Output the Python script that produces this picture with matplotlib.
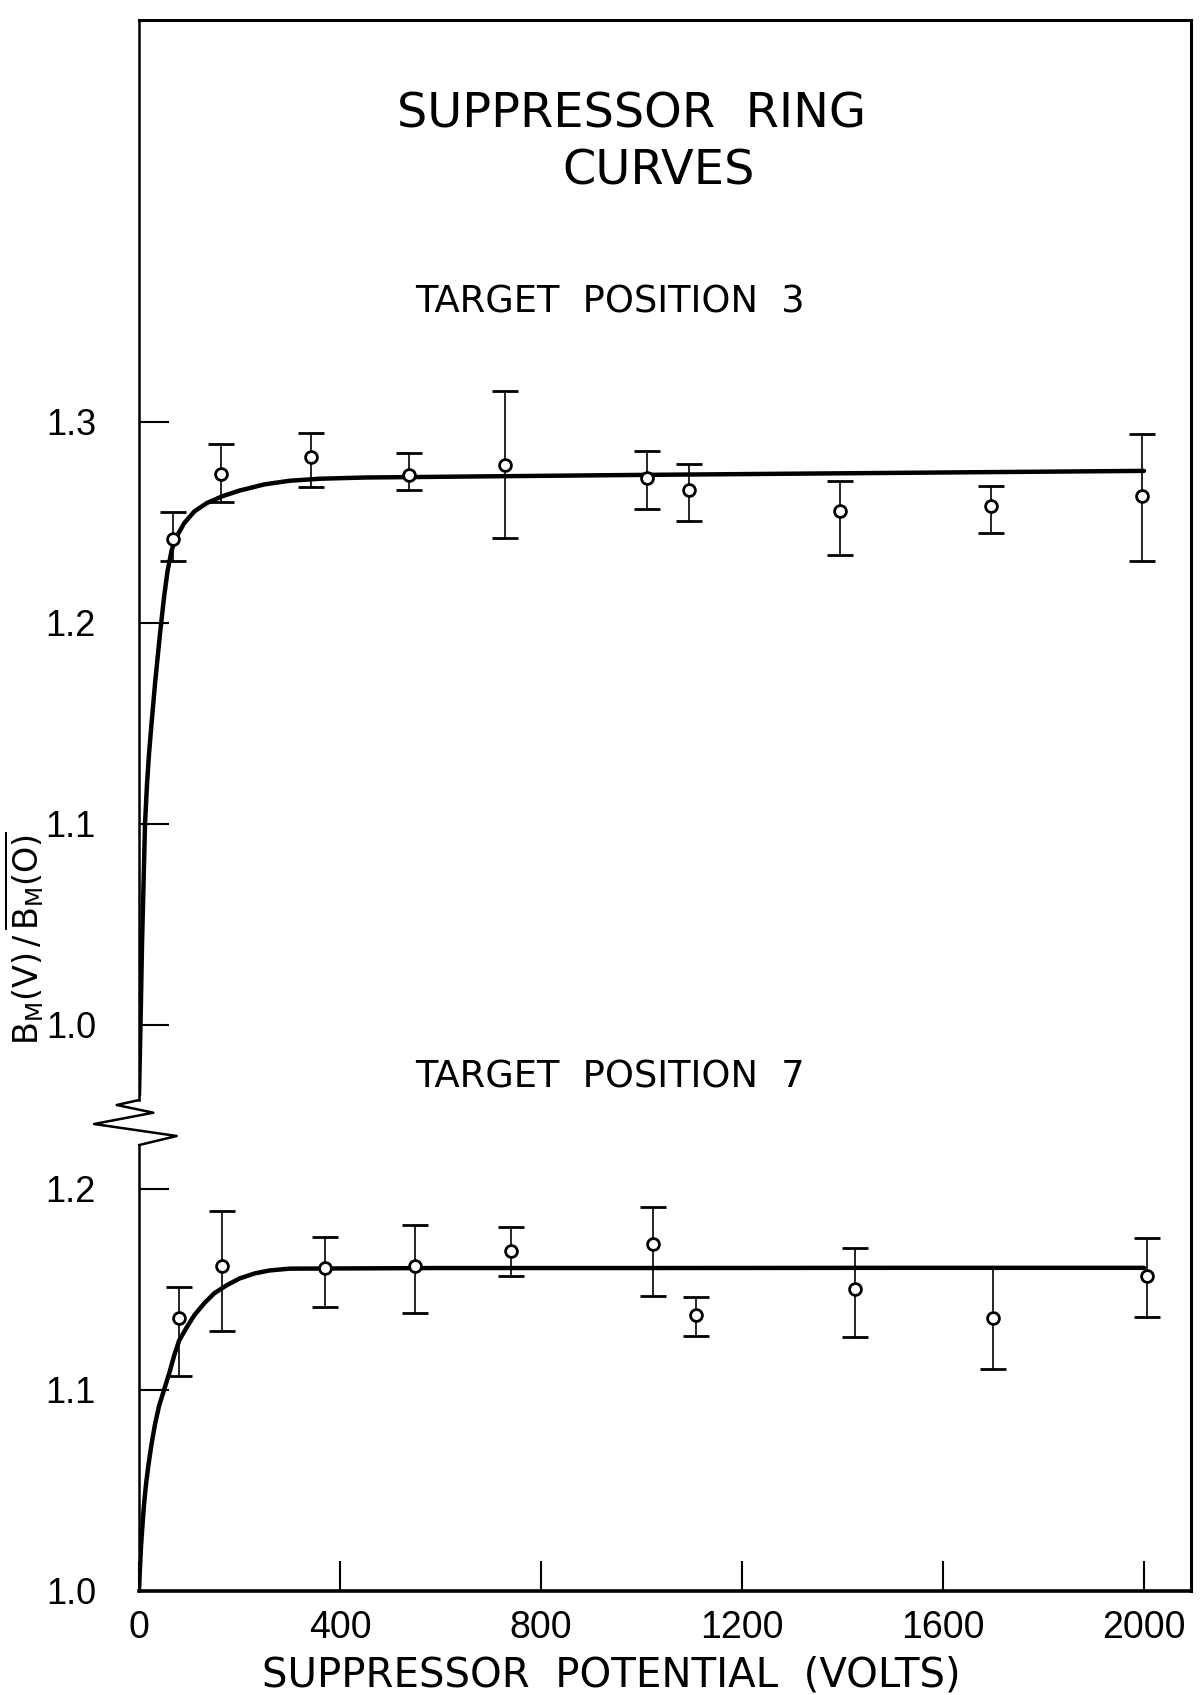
#!/usr/bin/env python3
# -*- coding: utf-8 -*-

import matplotlib
matplotlib.use('Agg')
import matplotlib.pyplot as plt
from matplotlib.lines import Line2D

W, H = 1200, 1695

# target position 3 (upper panel)
v3 = [68, 164, 343, 537, 728, 1010, 1094, 1395, 1696, 1995]
b3 = [1.2417, 1.2738, 1.2824, 1.2733, 1.2786, 1.2722, 1.2658, 1.2556, 1.2578, 1.2631]
b3_lo = [1.2305, 1.2599, 1.2674, 1.2658, 1.2422, 1.2567, 1.2508, 1.2337, 1.2444, 1.2305]
b3_hi = [1.2551, 1.2888, 1.2941, 1.2845, 1.3150, 1.2856, 1.2791, 1.2706, 1.2679, 1.2936]
fit3_v = [0, 3, 6, 9, 12, 16, 20, 25, 32, 42, 50, 57, 65, 73, 90, 110, 135, 165, 200,
          250, 300, 360, 450, 700, 1000, 1500, 2000]
fit3_b = [0.965, 1.0, 1.04, 1.07, 1.10, 1.12, 1.135, 1.15, 1.17, 1.195, 1.213, 1.226,
          1.236, 1.242, 1.2495, 1.2553, 1.2595, 1.2628, 1.2657, 1.2688, 1.2706, 1.2716,
          1.2722, 1.2728, 1.2735, 1.2745, 1.2755]

# target position 7 (lower panel)
v7 = [80, 166, 370, 549, 740, 1022, 1108, 1424, 1699, 2005]
b7 = [1.1355, 1.1616, 1.1605, 1.1616, 1.1691, 1.1723, 1.1371, 1.1499, 1.1355, 1.1563]
b7_lo = [1.1067, 1.1291, 1.1413, 1.1381, 1.1563, 1.1467, 1.1269, 1.1264, 1.1104, 1.1360]
b7_hi = [1.1509, 1.1888, 1.1760, 1.1819, 1.1808, 1.1909, 1.1461, 1.1707, 1.1611, 1.1755]
fit7_v = [0, 2, 4, 7, 10, 14, 19, 25, 32, 40, 50, 60, 70, 80, 95, 110, 130, 150, 175,
          200, 230, 260, 300, 600, 1000, 1500, 2000]
fit7_b = [1.0, 1.012, 1.022, 1.033, 1.043, 1.053, 1.063, 1.073, 1.083, 1.092, 1.10,
          1.108, 1.117, 1.1245, 1.131, 1.137, 1.143, 1.148, 1.152, 1.1553, 1.1578,
          1.1593, 1.1602, 1.1605, 1.1605, 1.1606, 1.1606]

xticks = [0, 400, 800, 1200, 1600, 2000]
yticks_top = [1.0, 1.1, 1.2, 1.3]
yticks_bot = [1.0, 1.1, 1.2]

TEXT_FONT = ['DejaVu Sans']
NUM_FONT = ['Liberation Sans', 'DejaVu Sans']


def fx(px):
    return px / W


def fy(py):
    return 1 - py / H


def style_axis(ax, yticks):
    ax.set_xlim(0, 2093.5)
    ax.set_xticks(xticks)
    ax.set_yticks(yticks)
    ax.set_yticklabels(['{:.1f}'.format(t) for t in yticks])
    ax.tick_params(axis='both', direction='in', length=21.6, width=1.5, colors='black')
    ax.tick_params(axis='y', pad=31, labelsize=26)
    ax.tick_params(axis='x', pad=14, labelsize=27)
    for lab in ax.get_xticklabels() + ax.get_yticklabels():
        lab.set_family(NUM_FONT)
    ax.spines['right'].set_visible(False)
    ax.spines['left'].set_linewidth(1.8)
    ax.patch.set_alpha(0)


def draw_series(ax, v, b, lo, hi, fv, fb):
    ax.plot(fv, fb, color='black', lw=3.2, solid_capstyle='round',
            solid_joinstyle='round', zorder=2)
    yerr = [[bi - l for bi, l in zip(b, lo)], [h - bi for bi, h in zip(b, hi)]]
    ax.errorbar(v, b, yerr=yerr, fmt='o', ms=8.5, mfc='white', mec='black', mew=2.0,
                ecolor='black', elinewidth=1.2, capsize=9.5, capthick=1.2, zorder=3)


fig = plt.figure(figsize=(W / 100, H / 100), dpi=100)

# two stacked axes with a broken y axis
left, right = 139, 1191
ax_top = fig.add_axes([fx(left), fy(1100), fx(right - left), (1100 - 19.5) / H])
ax_bot = fig.add_axes([fx(left), fy(1590.7), fx(right - left), (1590.7 - 1145) / H])

draw_series(ax_top, v3, b3, b3_lo, b3_hi, fit3_v, fit3_b)
ax_top.set_ylim(0.9626, 1.5)
style_axis(ax_top, yticks_top)
ax_top.spines['bottom'].set_visible(False)
ax_top.spines['top'].set_linewidth(2.2)
ax_top.tick_params(axis='x', bottom=False, labelbottom=False)

draw_series(ax_bot, v7, b7, b7_lo, b7_hi, fit7_v, fit7_b)
ax_bot.set_ylim(1.0, 1.2217)
style_axis(ax_bot, yticks_bot)
ax_bot.spines['top'].set_visible(False)
ax_bot.spines['bottom'].set_linewidth(2.6)

# right border and the zigzag break on the left axis
fig.add_artist(Line2D([fx(right), fx(right)], [fy(19.5), fy(1590.7)],
                      color='black', lw=2.2, transform=fig.transFigure))
zx = [139.3, 116.7, 153.3, 94, 176.7, 139.3]
zy = [1100, 1105, 1112.7, 1124, 1136, 1145]
fig.add_artist(Line2D([fx(x) for x in zx], [fy(y) for y in zy],
                      color='black', lw=1.8, transform=fig.transFigure))

# labels
fig.text(fx(632), fy(114), 'SUPPRESSOR  RING', ha='center', va='center',
         fontsize=34.5, family=TEXT_FONT)
fig.text(fx(659), fy(171), 'CURVES', ha='center', va='center',
         fontsize=34.5, family=TEXT_FONT)
fig.text(fx(610), fy(302), 'TARGET  POSITION  3', ha='center', va='center',
         fontsize=26.5, family=TEXT_FONT)
fig.text(fx(610), fy(1077), 'TARGET  POSITION  7', ha='center', va='center',
         fontsize=26.5, family=TEXT_FONT)
fig.text(fx(611), fy(1675), 'SUPPRESSOR  POTENTIAL  (VOLTS)', ha='center', va='center',
         fontsize=29, family=TEXT_FONT)
plt.rcParams['mathtext.fontset'] = 'dejavusans'
fig.text(fx(24), fy(938), r'$\mathrm{B_M(V)}\,/\,\overline{\mathrm{B_M(O)}}$',
         ha='center', va='center', rotation=90, fontsize=24)

fig.savefig('out.png', dpi=100)
